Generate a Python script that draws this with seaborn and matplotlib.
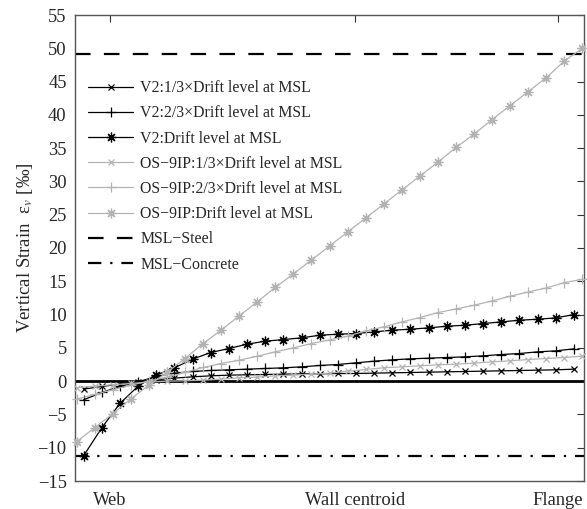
import numpy as np
import pandas as pd
import matplotlib
matplotlib.use("Agg")
import matplotlib.pyplot as plt
import seaborn as sns

# strain along the wall, web -> flange  [per mille]
v2_third = [-1.2, -0.8, -0.45, -0.15, 0.2, 0.45, 0.65, 0.8, 0.9, 0.95, 1.0, 1.05, 1.1, 1.1,
            1.15, 1.15, 1.2, 1.25, 1.3, 1.35, 1.4, 1.45, 1.5, 1.55, 1.6, 1.65, 1.7, 1.8]
v2_two_thirds = [-2.8, -1.7, -0.8, -0.1, 0.7, 1.2, 1.45, 1.6, 1.7, 1.8, 1.9, 2.0, 2.15, 2.35,
                 2.5, 2.75, 3.0, 3.2, 3.35, 3.45, 3.55, 3.65, 3.8, 4.0, 4.15, 4.4, 4.55, 4.85]
v2_drift = [-11.2, -7.0, -3.35, -0.75, 0.9, 2.0, 3.3, 4.3, 4.9, 5.55, 6.0, 6.25, 6.5, 6.9,
            7.05, 7.15, 7.4, 7.65, 7.8, 8.0, 8.25, 8.4, 8.65, 8.9, 9.15, 9.3, 9.5, 10.0]

os_third = [-1.0, -0.75, -0.55, -0.35, -0.15, 0.0, 0.05, 0.15, 0.3, 0.5, 0.6, 0.8, 0.9, 1.05,
            1.2, 1.5, 1.75, 2.0, 2.15, 2.3, 2.45, 2.55, 2.7, 2.9, 3.05, 3.25, 3.4, 3.55, 3.75]
os_two_thirds = [-2.7, -2.0, -1.3, -0.6, 0.0, 0.6, 1.3, 2.05, 2.65, 3.15, 3.75, 4.4, 5.0, 5.65,
                 6.2, 6.75, 7.55, 8.15, 8.9, 9.55, 10.3, 10.85, 11.4, 12.05, 12.75, 13.4, 14.0, 14.8, 15.3]
os_drift = [-9.1, -7.0, -4.9, -2.7, -0.6, 1.3, 3.4, 5.65, 7.65, 9.8, 11.9, 14.1, 16.1, 18.2,
            20.3, 22.4, 24.5, 26.6, 28.7, 30.8, 32.9, 35.1, 37.1, 39.3, 41.4, 43.5, 45.6, 48.1, 50.0]

msl_steel = 49.2
msl_concrete = -11.2

# evenly spaced stations along the wall (fraction of the section length)
v2_pos = np.linspace(0.017, 0.98, len(v2_drift))
os_pos = np.linspace(0.003, 0.997, len(os_drift))

tick_pos = [0.068, 0.55, 0.949]
tick_labels = ["Web", "Wall centroid", "Flange"]

series = [
    ("V2:1/3×Drift level at MSL", v2_pos, v2_third, "x", "black", 5),
    ("V2:2/3×Drift level at MSL", v2_pos, v2_two_thirds, "+", "black", 7),
    ("V2:Drift level at MSL", v2_pos, v2_drift, (8, 2, 0), "black", 7),
    ("OS\u22129IP:1/3×Drift level at MSL", os_pos, os_third, "x", "#b3b3b3", 5),
    ("OS\u22129IP:2/3×Drift level at MSL", os_pos, os_two_thirds, "+", "#b3b3b3", 7),
    ("OS\u22129IP:Drift level at MSL", os_pos, os_drift, (8, 2, 0), "#b3b3b3", 7),
]

sns.set_style("white")
plt.rcParams["font.family"] = ["Liberation Serif", "DejaVu Serif"]
plt.rcParams["mathtext.fontset"] = "stix"

fig = plt.figure(figsize=(5.87, 5.09), dpi=100)
ax = fig.add_axes([75 / 587, 28 / 509, 509 / 587, 466 / 509])

for label, xs, ys, mk, col, ms in series:
    df = pd.DataFrame({"pos": xs, "strain": ys})
    sns.lineplot(data=df, x="pos", y="strain", ax=ax, color=col, marker=mk,
                 markersize=ms, markeredgewidth=0.9, markeredgecolor=col,
                 linewidth=0.9, label=label, clip_on=False, zorder=3)

ax.axhline(0, color="black", linewidth=2.0, zorder=2)
ax.axhline(msl_steel, color="black", linewidth=1.6, linestyle=(0, (7.0, 6.0)),
           label="MSL\u2212Steel", zorder=2)
ax.axhline(msl_concrete, color="black", linewidth=1.6, linestyle=(0, (6.0, 4.0, 1.0, 4.0)),
           label="MSL\u2212Concrete", zorder=2)

ax.set_xlim(0, 1)
ax.set_ylim(-15, 55)
ax.set_yticks(np.arange(-15, 56, 5))
ax.set_xticks(tick_pos)
ax.set_xticklabels(tick_labels)
for i in (0, 2):
    ax.xaxis.get_major_ticks()[i].tick1line.set_visible(False)
    ax.xaxis.get_major_ticks()[i].tick2line.set_visible(False)
ax.tick_params(direction="in", length=5, width=0.8, labelsize=13.3, top=True, right=True,
               color="#333333", pad=6)
ax.tick_params(axis="x", pad=8)
ax.set_xlabel("")
ax.set_ylabel("Vertical Strain  ε$_v$ [‰]", fontsize=13.5, labelpad=2)

for sp in ax.spines.values():
    sp.set_color("#555555")
    sp.set_linewidth(1.0)

ax.legend(loc="upper left", bbox_to_anchor=(13 / 509, 0.86), frameon=False,
          fontsize=11.4, handlelength=2.85, handletextpad=0.45, labelspacing=0.58,
          borderpad=0, borderaxespad=0)

fig.savefig("out.png", dpi=100)
